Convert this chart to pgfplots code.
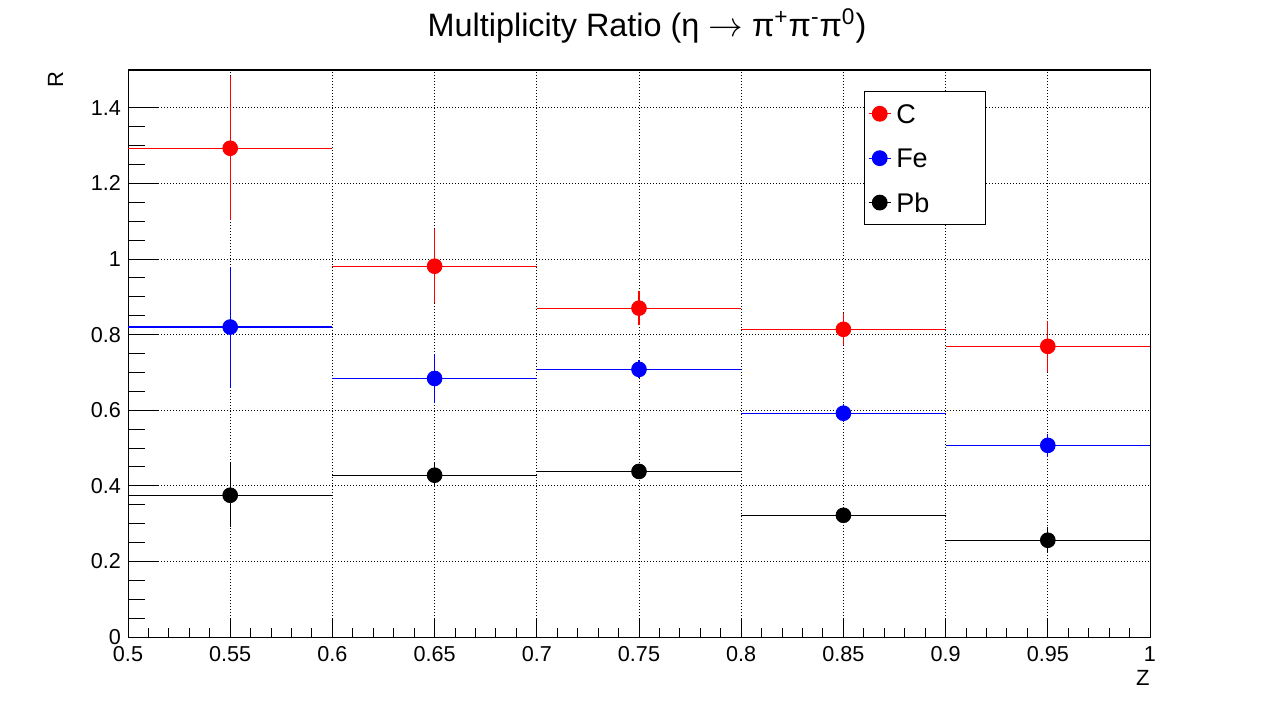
\documentclass[border=0pt]{standalone}
\usepackage{pgfplots}
\pgfplotsset{compat=1.18}
\usepackage{pgfplotstable}
\usepackage{fontspec}
\setmainfont{Liberation Sans}
\pgfplotstableread{
x y ex ey
0.55 1.293 0.05 0.190
0.65 0.981 0.05 0.098
0.75 0.870 0.05 0.045
0.85 0.814 0.05 0.042
0.95 0.769 0.05 0.067
}\dataC
\pgfplotstableread{
x y ex ey
0.55 0.820 0.05 0.160
0.65 0.684 0.05 0.066
0.75 0.708 0.05 0.024
0.85 0.592 0.05 0.024
0.95 0.507 0.05 0.030
}\dataFe
\pgfplotstableread{
x y ex ey
0.55 0.375 0.05 0.085
0.65 0.428 0.05 0.032
0.75 0.438 0.05 0.015
0.85 0.322 0.05 0.015
0.95 0.256 0.05 0.035
}\dataPb
\begin{document}
\begin{tikzpicture}[x=1pt,y=1pt]
\path[use as bounding box] (-64,-35.5) rectangle (575,318.5);
\pgfplotsset{
 base/.style={
  at={(0,0)}, anchor=south west, scale only axis, width=511pt, height=283.5pt,
  xmin=0.5,xmax=1,ymin=0,ymax=1.5,
  axis line style={line width=0.5pt}, tick align=inside,
  tick style={black,line width=0.5pt},
  /pgf/number format/assume math mode=true,
  ticklabel style={font=\fontsize{10.8}{12}\selectfont},
  grid style={black, line width=0.5pt, dash pattern=on 0.5pt off 1pt},
 }
}
\begin{axis}[base, xtick=\empty,
  ytick={0,0.2,0.4,0.6,0.8,1,1.2,1.4}, minor y tick num=3, ymajorgrids,
  ytick pos=left, major tick length=15.5pt, minor tick length=8.3pt]
\end{axis}
\begin{axis}[base, ytick=\empty,
  xtick={0.5,0.55,0.6,0.65,0.7,0.75,0.8,0.85,0.9,0.95,1},
  minor x tick num=4, xmajorgrids, xtick pos=bottom,
  major tick length=9pt, minor tick length=4.5pt,
  xticklabel style={yshift=-1.4pt},
  legend style={at={(0.7202,0.9630)}, anchor=north west, draw=black,
    line width=0.5pt, font=\fontsize{13.5}{16}\selectfont,
    inner xsep=1.85pt, inner ysep=6.3pt, row sep=12.5pt, column sep=2.5pt,
    nodes={inner sep=0pt, text height=9.7pt, text depth=0pt}},
  legend cell align=left,
  legend image code/.code={
    \draw[solid,line width=0.5pt] (0pt,0pt) -- (11pt,0pt);
    \draw[solid,line width=0.5pt] (5.5pt,-3.6pt) -- (5.5pt,3.6pt);
    \draw[solid] plot[mark=*,mark size=3.7pt] coordinates {(5.5pt,0pt)};
  }]
\addplot[color=red, mark=*, mark size=3.7pt, only marks,
  error bars/.cd, x dir=both, x explicit, y dir=both, y explicit,
  error mark=none, error bar style={line width=0.6pt}]
  table[x=x,y=y,x error=ex,y error=ey] {\dataC};
\addlegendentry{\makebox[42.8pt][l]{C}}
\addplot[color=blue, mark=*, mark size=3.7pt, only marks,
  error bars/.cd, x dir=both, x explicit, y dir=both, y explicit,
  error mark=none, error bar style={line width=0.6pt}]
  table[x=x,y=y,x error=ex,y error=ey] {\dataFe};
\addlegendentry{\makebox[42.8pt][l]{Fe}}
\addplot[color=black, mark=*, mark size=3.7pt, only marks,
  error bars/.cd, x dir=both, x explicit, y dir=both, y explicit,
  error mark=none, error bar style={line width=0.6pt}]
  table[x=x,y=y,x error=ex,y error=ey] {\dataPb};
\addlegendentry{\makebox[42.8pt][l]{Pb}}
\end{axis}
\node[font=\fontsize{16.2}{19}\selectfont] at (259.5,305.5)
  {Multiplicity Ratio (η $\rightarrow$ π\textsuperscript{+}π\textsuperscript{-}π\textsuperscript{0})};
\node[font=\fontsize{11}{13}\selectfont, anchor=east, inner sep=0pt] at (511,-20.25) {Z};
\node[font=\fontsize{11}{13}\selectfont, rotate=90, anchor=east, inner sep=0pt] at (-36.25,283) {R};
\end{tikzpicture}
\end{document}
